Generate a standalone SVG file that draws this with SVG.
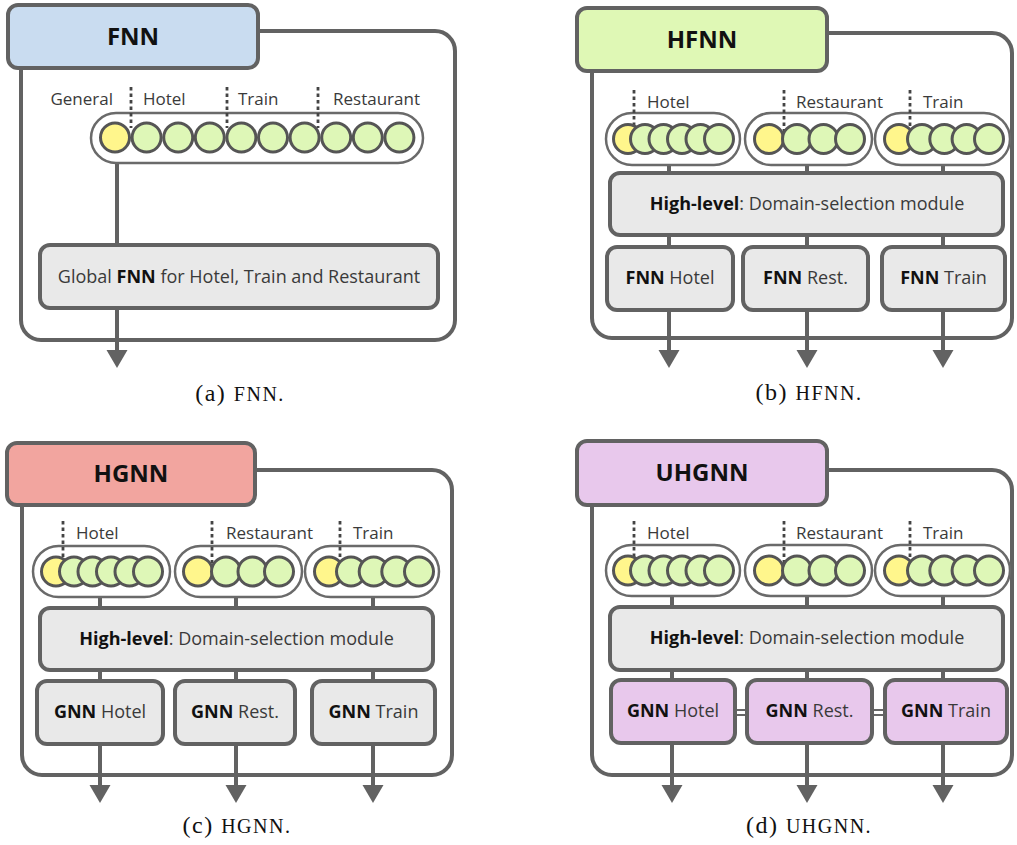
<svg xmlns="http://www.w3.org/2000/svg" width="1017" height="845" viewBox="0 0 1017 845">
<style>
.frame{fill:#fff;stroke:#626262;stroke-width:4}
.box{fill:#e9e9e9;stroke:#626262;stroke-width:4}
.pill{fill:#fff;stroke:#6a6a6a;stroke-width:2.5}
.cy{fill:#fff68c;stroke:#555;stroke-width:3}
.cg{fill:#def7b7;stroke:#555;stroke-width:3}
.conn{stroke:#626262;stroke-width:4;fill:none}
.eq{stroke:#333;stroke-width:1.5;fill:none}
.dot{stroke:#444;stroke-width:2.8;stroke-dasharray:3.5 3;fill:none}
.lbl{font-family:'Open Sans','Noto Sans',sans-serif;font-size:17px;fill:#3a3a3a}
.txt{font-family:'Open Sans','Noto Sans',sans-serif;font-size:18px;fill:#3a3a3a;text-anchor:middle}
.b{font-weight:bold;fill:#111}
.ttl{font-family:'Open Sans','Noto Sans',sans-serif;font-size:24px;font-weight:bold;fill:#111;text-anchor:middle}
.cap{font-family:'Liberation Serif',serif;font-size:24px;fill:#111;text-anchor:middle;letter-spacing:1.5px}
.sc{font-size:20px}
</style>
<defs>
<marker id="ah" markerUnits="userSpaceOnUse" markerWidth="20" markerHeight="22" viewBox="0 -11 20 22" refX="0" refY="0" orient="auto">
<path d="M0,-10.5 L18,0 L0,10.5 z" fill="#626262"/>
</marker>
</defs>

<!-- frames -->
<g id="frames">
<rect class="frame" x="21" y="31" width="434" height="309" rx="20"/>
<rect class="frame" x="592" y="33" width="420" height="305" rx="20"/>
<rect class="frame" x="22" y="470" width="430" height="305" rx="20"/>
<rect class="frame" x="592" y="470" width="420" height="305" rx="20"/>
</g>

<!-- connectors -->
<g id="connectors">
<line class="conn" x1="117" y1="160" x2="117" y2="350" marker-end="url(#ah)"/>

<line class="conn" x1="669" y1="162" x2="669" y2="175"/>
<line class="conn" x1="807" y1="162" x2="807" y2="175"/>
<line class="conn" x1="943" y1="162" x2="943" y2="175"/>
<line class="conn" x1="669" y1="233" x2="669" y2="249"/>
<line class="conn" x1="807" y1="233" x2="807" y2="249"/>
<line class="conn" x1="943" y1="233" x2="943" y2="249"/>
<line class="conn" x1="669" y1="308" x2="669" y2="350" marker-end="url(#ah)"/>
<line class="conn" x1="807" y1="308" x2="807" y2="350" marker-end="url(#ah)"/>
<line class="conn" x1="943" y1="308" x2="943" y2="350" marker-end="url(#ah)"/>

<line class="conn" x1="100" y1="594" x2="100" y2="610"/>
<line class="conn" x1="236" y1="594" x2="236" y2="610"/>
<line class="conn" x1="373" y1="594" x2="373" y2="610"/>
<line class="conn" x1="100" y1="668" x2="100" y2="683"/>
<line class="conn" x1="236" y1="668" x2="236" y2="683"/>
<line class="conn" x1="373" y1="668" x2="373" y2="683"/>
<line class="conn" x1="100" y1="742" x2="100" y2="785" marker-end="url(#ah)"/>
<line class="conn" x1="236" y1="742" x2="236" y2="785" marker-end="url(#ah)"/>
<line class="conn" x1="373" y1="742" x2="373" y2="785" marker-end="url(#ah)"/>

<line class="conn" x1="672" y1="593" x2="672" y2="609"/>
<line class="conn" x1="807" y1="593" x2="807" y2="609"/>
<line class="conn" x1="943" y1="593" x2="943" y2="609"/>
<line class="conn" x1="672" y1="668" x2="672" y2="682"/>
<line class="conn" x1="807" y1="668" x2="807" y2="682"/>
<line class="conn" x1="943" y1="668" x2="943" y2="682"/>
<line class="conn" x1="672" y1="741" x2="672" y2="785" marker-end="url(#ah)"/>
<line class="conn" x1="807" y1="741" x2="807" y2="785" marker-end="url(#ah)"/>
<line class="conn" x1="943" y1="741" x2="943" y2="785" marker-end="url(#ah)"/>

<line class="eq" x1="736" y1="710" x2="748" y2="710"/>
<line class="eq" x1="736" y1="715" x2="748" y2="715"/>
<line class="eq" x1="871" y1="710" x2="885" y2="710"/>
<line class="eq" x1="871" y1="715" x2="885" y2="715"/>
</g>

<!-- ===== Panel (a) ===== -->
<g id="a-title">
<rect class="box" x="8" y="5" width="250" height="63" rx="10" style="fill:#c9dcf0"/>
<text class="ttl" x="133" y="45">FNN</text>
</g>
<g id="a-labels">
<text class="lbl" x="113" y="105" text-anchor="end">General</text>
<text class="lbl" x="143" y="105">Hotel</text>
<text class="lbl" x="238" y="105">Train</text>
<text class="lbl" x="333" y="105">Restaurant</text>
</g>
<g id="a-input">
<rect class="pill" x="91" y="113" width="332" height="50" rx="25"/>
<line class="dot" x1="131" y1="87" x2="131" y2="128"/>
<line class="dot" x1="227" y1="87" x2="227" y2="128"/>
<line class="dot" x1="318" y1="87" x2="318" y2="128"/>
<circle class="cy" cx="115" cy="137.5" r="14.5"/>
<circle class="cg" cx="146.6" cy="137.5" r="14.5"/>
<circle class="cg" cx="178.2" cy="137.5" r="14.5"/>
<circle class="cg" cx="209.8" cy="137.5" r="14.5"/>
<circle class="cg" cx="241.4" cy="137.5" r="14.5"/>
<circle class="cg" cx="273" cy="137.5" r="14.5"/>
<circle class="cg" cx="304.6" cy="137.5" r="14.5"/>
<circle class="cg" cx="336.2" cy="137.5" r="14.5"/>
<circle class="cg" cx="367.8" cy="137.5" r="14.5"/>
<circle class="cg" cx="399.4" cy="137.5" r="14.5"/>
</g>
<g id="a-global">
<rect class="box" x="40" y="245" width="398" height="63" rx="10"/>
<text class="txt" x="239" y="283">Global <tspan class="b">FNN</tspan> for Hotel, Train and Restaurant</text>
</g>

<!-- ===== Panel (b) ===== -->
<g id="b-title">
<rect class="box" x="577" y="8" width="250" height="63" rx="10" style="fill:#dff8b5"/>
<text class="ttl" x="702" y="48">HFNN</text>
</g>
<g id="b-labels">
<text class="lbl" x="647" y="108">Hotel</text>
<text class="lbl" x="796" y="108">Restaurant</text>
<text class="lbl" x="923" y="108">Train</text>
</g>
<g id="b-input-hotel">
<rect class="pill" x="606" y="113" width="134" height="52" rx="26"/>
<line class="dot" x1="634" y1="90" x2="634" y2="132"/>
<circle class="cy" cx="628" cy="139" r="14.5"/>
<circle class="cg" cx="645" cy="139" r="14.5"/>
<circle class="cg" cx="663.5" cy="139" r="14.5"/>
<circle class="cg" cx="682" cy="139" r="14.5"/>
<circle class="cg" cx="700.5" cy="139" r="14.5"/>
<circle class="cg" cx="719" cy="139" r="14.5"/>
</g>
<g id="b-input-rest">
<rect class="pill" x="745" y="113" width="127" height="52" rx="26"/>
<line class="dot" x1="784" y1="90" x2="784" y2="132"/>
<circle class="cy" cx="769" cy="139" r="14.5"/>
<circle class="cg" cx="797" cy="139" r="14.5"/>
<circle class="cg" cx="823.5" cy="139" r="14.5"/>
<circle class="cg" cx="850" cy="139" r="14.5"/>
</g>
<g id="b-input-train">
<rect class="pill" x="875" y="113" width="135" height="52" rx="26"/>
<line class="dot" x1="910" y1="90" x2="910" y2="132"/>
<circle class="cy" cx="899" cy="139" r="14.5"/>
<circle class="cg" cx="922" cy="139" r="14.5"/>
<circle class="cg" cx="944.3" cy="139" r="14.5"/>
<circle class="cg" cx="966.6" cy="139" r="14.5"/>
<circle class="cg" cx="989" cy="139" r="14.5"/>
</g>
<g id="b-high">
<rect class="box" x="610" y="173" width="393" height="62" rx="10"/>
<text class="txt" x="807" y="210"><tspan class="b">High-level</tspan>: Domain-selection module</text>
</g>
<g id="b-fnn-hotel">
<rect class="box" x="607" y="247" width="126" height="63" rx="10"/>
<text class="txt" x="670" y="284"><tspan class="b">FNN</tspan> Hotel</text>
</g>
<g id="b-fnn-rest">
<rect class="box" x="743" y="247" width="125" height="63" rx="10"/>
<text class="txt" x="805.5" y="284"><tspan class="b">FNN</tspan> Rest.</text>
</g>
<g id="b-fnn-train">
<rect class="box" x="882" y="247" width="123" height="63" rx="10"/>
<text class="txt" x="943.5" y="284"><tspan class="b">FNN</tspan> Train</text>
</g>

<!-- ===== Panel (c) ===== -->
<g id="c-title">
<rect class="box" x="7" y="443" width="248" height="62" rx="10" style="fill:#f2a59f"/>
<text class="ttl" x="131" y="482">HGNN</text>
</g>
<g id="c-labels">
<text class="lbl" x="76" y="539">Hotel</text>
<text class="lbl" x="226" y="539">Restaurant</text>
<text class="lbl" x="353" y="539">Train</text>
</g>
<g id="c-input-hotel">
<rect class="pill" x="33" y="546" width="137" height="51" rx="25.5"/>
<line class="dot" x1="63" y1="521" x2="63" y2="563"/>
<circle class="cy" cx="56" cy="571.5" r="14.5"/>
<circle class="cg" cx="74" cy="571.5" r="14.5"/>
<circle class="cg" cx="92.5" cy="571.5" r="14.5"/>
<circle class="cg" cx="111" cy="571.5" r="14.5"/>
<circle class="cg" cx="129.5" cy="571.5" r="14.5"/>
<circle class="cg" cx="148" cy="571.5" r="14.5"/>
</g>
<g id="c-input-rest">
<rect class="pill" x="175" y="546" width="127" height="51" rx="25.5"/>
<line class="dot" x1="212" y1="521" x2="212" y2="563"/>
<circle class="cy" cx="198" cy="571.5" r="14.5"/>
<circle class="cg" cx="226" cy="571.5" r="14.5"/>
<circle class="cg" cx="252.5" cy="571.5" r="14.5"/>
<circle class="cg" cx="279" cy="571.5" r="14.5"/>
</g>
<g id="c-input-train">
<rect class="pill" x="305" y="546" width="134" height="51" rx="25.5"/>
<line class="dot" x1="340" y1="521" x2="340" y2="563"/>
<circle class="cy" cx="329" cy="571.5" r="14.5"/>
<circle class="cg" cx="351" cy="571.5" r="14.5"/>
<circle class="cg" cx="373.7" cy="571.5" r="14.5"/>
<circle class="cg" cx="396.3" cy="571.5" r="14.5"/>
<circle class="cg" cx="419" cy="571.5" r="14.5"/>
</g>
<g id="c-high">
<rect class="box" x="40" y="608" width="393" height="62" rx="10"/>
<text class="txt" x="236.5" y="645"><tspan class="b">High-level</tspan>: Domain-selection module</text>
</g>
<g id="c-gnn-hotel">
<rect class="box" x="37" y="681" width="126" height="63" rx="10"/>
<text class="txt" x="100" y="718"><tspan class="b">GNN</tspan> Hotel</text>
</g>
<g id="c-gnn-rest">
<rect class="box" x="175" y="681" width="120" height="63" rx="10"/>
<text class="txt" x="235" y="718"><tspan class="b">GNN</tspan> Rest.</text>
</g>
<g id="c-gnn-train">
<rect class="box" x="312" y="681" width="123" height="63" rx="10"/>
<text class="txt" x="373.5" y="718"><tspan class="b">GNN</tspan> Train</text>
</g>

<!-- ===== Panel (d) ===== -->
<g id="d-title">
<rect class="box" x="577" y="441" width="250" height="64" rx="10" style="fill:#e8c8ec"/>
<text class="ttl" x="702" y="481">UHGNN</text>
</g>
<g id="d-labels">
<text class="lbl" x="647" y="539">Hotel</text>
<text class="lbl" x="796" y="539">Restaurant</text>
<text class="lbl" x="923" y="539">Train</text>
</g>
<g id="d-input-hotel">
<rect class="pill" x="606" y="545" width="134" height="51" rx="25.5"/>
<line class="dot" x1="634" y1="521" x2="634" y2="563"/>
<circle class="cy" cx="628" cy="570.5" r="14.5"/>
<circle class="cg" cx="645" cy="570.5" r="14.5"/>
<circle class="cg" cx="663.5" cy="570.5" r="14.5"/>
<circle class="cg" cx="682" cy="570.5" r="14.5"/>
<circle class="cg" cx="700.5" cy="570.5" r="14.5"/>
<circle class="cg" cx="719" cy="570.5" r="14.5"/>
</g>
<g id="d-input-rest">
<rect class="pill" x="745" y="545" width="127" height="51" rx="25.5"/>
<line class="dot" x1="784" y1="521" x2="784" y2="563"/>
<circle class="cy" cx="769" cy="570.5" r="14.5"/>
<circle class="cg" cx="797" cy="570.5" r="14.5"/>
<circle class="cg" cx="823.5" cy="570.5" r="14.5"/>
<circle class="cg" cx="850" cy="570.5" r="14.5"/>
</g>
<g id="d-input-train">
<rect class="pill" x="875" y="545" width="135" height="51" rx="25.5"/>
<line class="dot" x1="910" y1="521" x2="910" y2="563"/>
<circle class="cy" cx="899" cy="570.5" r="14.5"/>
<circle class="cg" cx="922" cy="570.5" r="14.5"/>
<circle class="cg" cx="944.3" cy="570.5" r="14.5"/>
<circle class="cg" cx="966.6" cy="570.5" r="14.5"/>
<circle class="cg" cx="989" cy="570.5" r="14.5"/>
</g>
<g id="d-high">
<rect class="box" x="610" y="607" width="393" height="63" rx="10"/>
<text class="txt" x="807" y="644"><tspan class="b">High-level</tspan>: Domain-selection module</text>
</g>
<g id="d-gnn-hotel">
<rect class="box" x="611" y="680" width="124" height="63" rx="10" style="fill:#e8c8ec"/>
<text class="txt" x="673" y="717"><tspan class="b">GNN</tspan> Hotel</text>
</g>
<g id="d-gnn-rest">
<rect class="box" x="747" y="680" width="125" height="63" rx="10" style="fill:#e8c8ec"/>
<text class="txt" x="809.5" y="717"><tspan class="b">GNN</tspan> Rest.</text>
</g>
<g id="d-gnn-train">
<rect class="box" x="885" y="680" width="122" height="63" rx="10" style="fill:#e8c8ec"/>
<text class="txt" x="946" y="717"><tspan class="b">GNN</tspan> Train</text>
</g>

<!-- captions -->
<g id="captions">
<text class="cap" x="240" y="401">(a) <tspan class="sc">FNN.</tspan></text>
<text class="cap" x="809" y="400">(b) <tspan class="sc">HFNN.</tspan></text>
<text class="cap" x="237" y="833">(c) <tspan class="sc">HGNN.</tspan></text>
<text class="cap" x="809" y="833">(d) <tspan class="sc">UHGNN.</tspan></text>
</g>
</svg>
